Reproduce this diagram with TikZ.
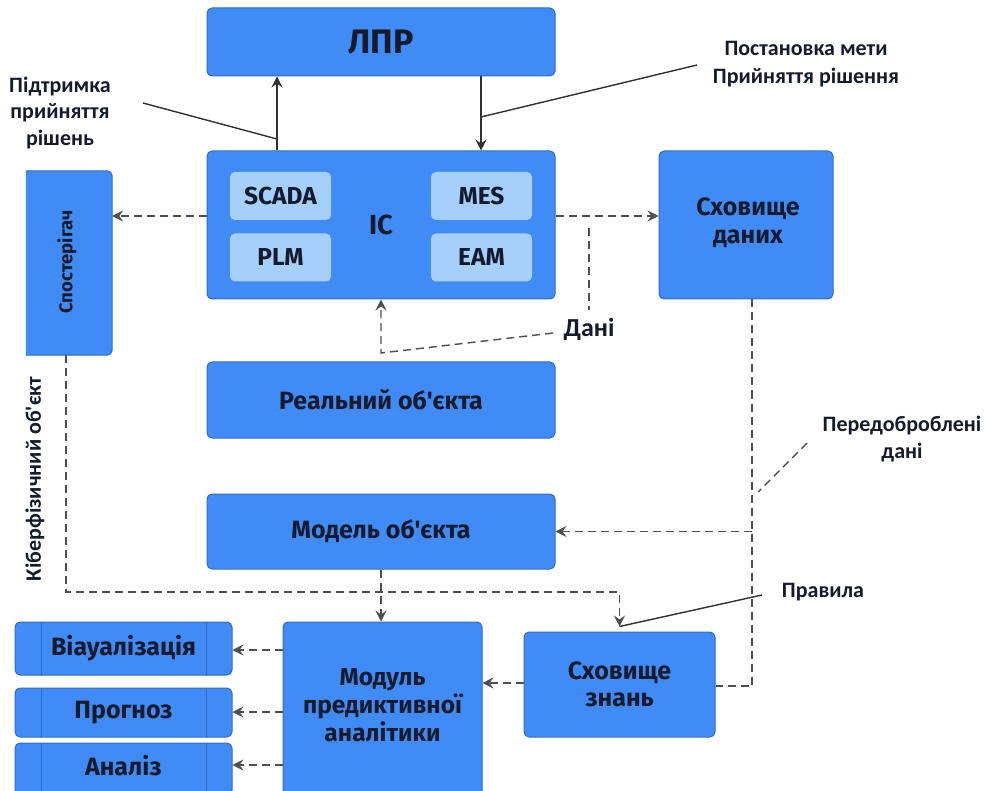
\documentclass[tikz,border=0pt]{standalone}
\usepackage{fontspec}
\setmainfont{Fira Sans}[Ligatures=TeXOff]
\newfontfamily\notefont{Carlito}[Ligatures=TeXOff]
\usetikzlibrary{arrows.meta}

\definecolor{boxblue}{HTML}{418BF6}
\definecolor{boxedge}{HTML}{2E6CCB}
\definecolor{subblue}{HTML}{A6D0FB}
\definecolor{ink}{HTML}{141B2D}
\definecolor{wire}{HTML}{303030}

\tikzset{
  box/.style={draw=boxedge, fill=boxblue, rounded corners=5pt, line width=1pt,
    text=ink, align=center, inner sep=0pt, font=\bfseries\fontsize{25}{28}\selectfont},
  subbox/.style={box, draw=none, fill=subblue, minimum width=101pt, minimum height=48pt,
    font=\bfseries\fontsize{24.5}{28}\selectfont},
  boxtext/.style={text=ink, align=center, inner sep=0pt, font=\bfseries\fontsize{24.5}{28}\selectfont},
  note/.style={text=ink, align=center, inner sep=0pt, font=\notefont\bfseries\fontsize{22}{27}\selectfont},
  solidarrow/.style={draw=wire, line width=1.5pt, -{Stealth[length=11pt,width=11pt,inset=4pt]}},
  leader/.style={draw=wire, line width=1.4pt},
  dashline/.style={draw=wire!85, line width=1.4pt, dash pattern=on 8pt off 5pt},
  dasharrow/.style={dashline, -{Stealth[length=11pt,width=11pt,inset=4pt]}},
}

\begin{document}
\begin{tikzpicture}[x=1pt, y=-1pt]
\useasboundingbox (0,0) rectangle (985,791);
\clip (0,0) rectangle (985,791);
\fill[white] (0,0) rectangle (985,791);

% top: decision maker and the information system
\node[box, minimum width=348pt, minimum height=68pt, font=\bfseries\fontsize{34}{38}\selectfont] (lpr) at (381,42) {ЛПР};
\node[box, minimum width=348pt, minimum height=148pt] (ic) at (381,225) {};
\node[subbox] (scada) at (280.5,196) {SCADA};
\node[subbox] (mes) at (481.5,196) {MES};
\node[subbox] (plm) at (280.5,257.5) {PLM};
\node[subbox] (eam) at (481.5,257.5) {EAM};
\node[boxtext, font=\bfseries\fontsize{27.5}{30}\selectfont] (iclabel) at (381,225) {IC};

% observer column (left edge left open)
\node[minimum width=86pt, minimum height=184pt, inner sep=0pt] (obs) at (69,263) {};
\draw[boxedge, fill=boxblue, line width=1pt, rounded corners=5pt]
  (obs.north west) -- (obs.north east) -- (obs.south east) -- (obs.south west);
\node[boxtext, rotate=90, font=\bfseries\fontsize{18.5}{22}\selectfont] (obstext) at (67,262) {Спостерігач};

% data warehouse
\node[box, minimum width=174pt, minimum height=148pt] (dstore) at (746,225) {};
\node[boxtext, font=\bfseries\fontsize{25}{28}\selectfont] (dstoretext) at (748,223) {Сховище\\даних};

% real object and its model
\node[box, minimum width=348pt, minimum height=76pt] (real) at (381,400) {Реальний об'єкта};
\node[box, minimum width=348pt, minimum height=75pt] (model) at (381,531.5) {Модель об'єкта};

% knowledge base and predictive analytics
\node[box, minimum width=191pt, minimum height=105pt, font=\bfseries\fontsize{25}{27}\selectfont] (kstore) at (619.5,684.5) {Сховище\\знань};
\node[box, minimum width=199pt, minimum height=190pt] (pam) at (382.5,717) {};
\node[boxtext] (pamtext) at (382.5,705) {Модуль\\предиктивної\\аналітики};

% output blocks with side bars
\node[box, minimum width=217pt, minimum height=53pt] (vis) at (123.5,648.5) {Віауалізація};
\node[box, minimum width=217pt, minimum height=49pt] (prog) at (123.5,712.5) {Прогноз};
\node[box, minimum width=217pt, minimum height=52pt] (anal) at (123.5,769) {};
\node[boxtext, font=\bfseries\fontsize{25}{28}\selectfont] (analtext) at (123.5,766) {Аналіз};
\foreach \b in {vis,prog,anal}{
  \draw[boxedge, line width=1pt] ([xshift=27pt]\b.north west) -- ([xshift=27pt]\b.south west);
  \draw[boxedge, line width=1pt] ([xshift=-26pt]\b.north east) -- ([xshift=-26pt]\b.south east);
}

% side labels
\node[note, font=\notefont\bfseries\fontsize{22}{26.5}\selectfont] (support) at (60,113) {Підтримка\\прийняття\\рішень};
\node[note, font=\notefont\bfseries\fontsize{22}{28}\selectfont] (goal) at (806,64) {Постановка мети\\Прийняття рішення};
\node[note] (prep) at (902,439) {Передоброблені\\дані};
\node[note] (rules) at (823,592) {Правила};
\node[note, font=\notefont\bfseries\fontsize{26}{28}\selectfont] (data) at (589,329) {Дані};
\node[note, rotate=90, font=\notefont\bfseries\fontsize{22}{24}\selectfont] (cps) at (35,479) {Кіберфізичний об'єкт};

% decision loop between IC and the decision maker
\draw[solidarrow] ([xshift=-104pt]ic.north) -- ([xshift=-104pt]lpr.south);
\draw[solidarrow] ([xshift=100pt]lpr.south) -- ([xshift=100pt]ic.north);
\coordinate (supA) at (143,103);
\coordinate (supB) at (277,139);
\draw[leader] (supA) -- (supB);
\coordinate (goalA) at (697,65);
\coordinate (goalB) at (481,117);
\draw[leader] (goalA) -- (goalB);

% IC outputs
\coordinate (icL) at ([yshift=9pt]ic.west);
\coordinate (icR) at ([yshift=9pt]ic.east);
\draw[dasharrow] (icL) -- (icL -| obs.east);
\draw[dasharrow] (icR) -- (icR -| dstore.west);

% data from the real object
\coordinate (dataTop) at (589,228);
\coordinate (dataBot) at (589,310);
\draw[dashline] (dataTop) -- (dataBot);
\coordinate (dataL) at (553,333);
\coordinate (dataC) at (381,353);
\draw[dasharrow] (dataL) -- (dataC) -- (dataC |- ic.south);

% preprocessed data from the warehouse
\coordinate (dcol) at ([xshift=6pt]dstore.south);
\draw[dashline] (dcol) |- ([yshift=-1.5pt]kstore.east);
\draw[dasharrow] (dcol |- model.east) -- (model.east);
\coordinate (prepA) at (807,443);
\coordinate (prepB) at (758,492);
\draw[dashline] (prepA) -- (prepB);

% cyber-physical link from the observer to the knowledge base
\coordinate (kb) at (kstore.north |- 0,592);
\draw[dasharrow] (obs.south -| 66,0) |- (kb) -- ([yshift=5pt]kstore.north);
\coordinate (rulesA) at (762,595);
\draw[leader] (rulesA) -- ([yshift=5pt]kstore.north);

% into the analytics module
\draw[dasharrow] (model.south) -- (model.south |- pam.north);
\draw[dasharrow] ([yshift=1.5pt]kstore.west) -- ([yshift=1.5pt]kstore.west -| pam.east);
\draw[dasharrow] (pam.west |- 0,650) -- (vis.east |- 0,650);
\draw[dasharrow] (pam.west |- 0,712) -- (prog.east |- 0,712);
\draw[dasharrow] (pam.west |- 0,765) -- (anal.east |- 0,765);
\end{tikzpicture}
\end{document}
